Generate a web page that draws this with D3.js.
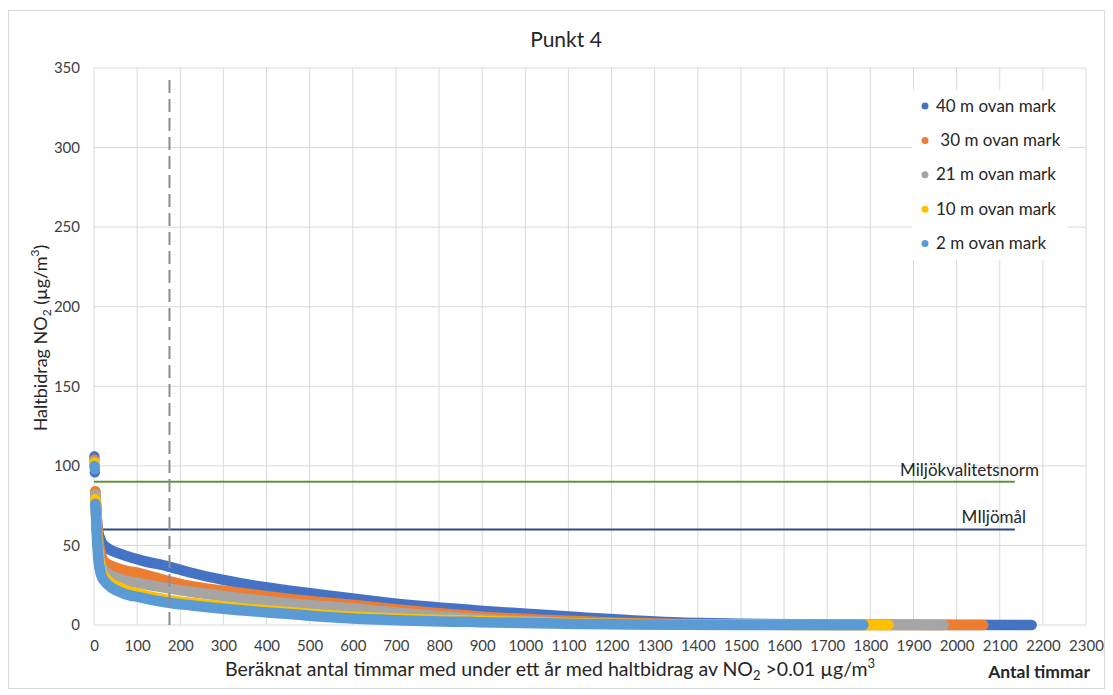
<!DOCTYPE html>
<html>
<head>
<meta charset="utf-8">
<script src="https://cdn.jsdelivr.net/npm/d3@7"></script>
<style>
  body { margin: 0; background: #fff; }
  svg { display: block; font-family: Lato, "Open Sans", sans-serif; }
</style>
</head>
<body>
<svg id="chart" width="1113" height="695"></svg>
<script>
// Hour rank (sorted duration curve) at which each series is sampled
const hours = [1, 2, 3, 4, 5, 6, 7, 8, 10, 13, 16, 22, 68, 107, 173, 223, 300, 377, 454, 532, 609, 686, 895, 1127, 1359, 1500, 1700];

// NO2 contribution (µg/m³) per height above ground, at the hours above
const s40 = [106, 96, 80, 77, 73, 69, 65, 62, 58, 55, 53, 50.3, 44, 40.8, 36.7, 33, 28.3, 24.5, 21.6, 18.9, 16.3, 13.8, 9, 4.8, 1.5, 0.8, 0.3];
const s30 = [104, 100, 84, 80, 75, 70, 65, 60, 54, 48, 45, 40, 34.6, 32.5, 27.6, 24.5, 21.6, 18.9, 16.3, 14.3, 12.4, 10.2, 5.4, 2.3, 0.6, 0.3, 0.1];
const s21 = [103, 98, 82, 78, 72, 66, 60, 55, 48, 42, 39, 34.6, 28.3, 26.2, 23, 20.9, 18.2, 15.7, 13.6, 11.9, 10.2, 8.2, 3.8, 1.3, 0.3, 0.15, 0.05];
const s10 = [102, 99, 79, 75, 68, 64, 58, 52, 45, 39, 35, 31, 22.5, 19.5, 15.8, 14, 11.7, 9.7, 8.1, 6.5, 5.2, 4.3, 2.6, 1.0, 0.3, 0.1, 0.05];
const s2  = [100, 98, 76, 72, 66, 60, 54, 50, 42, 36, 32, 28.3, 19.9, 17.4, 14, 12.4, 10.2, 8.4, 6.9, 5.2, 4, 3.2, 1.8, 0.7, 0.1, 0.05, 0.02];

// Last hour with a contribution above 0.01 µg/m³, per series
const endHours = [2174, 2062, 1970, 1842, 1784];
const endValue = 0.01;

const seriesNames = ["40 m ovan mark", " 30 m ovan mark", "21 m ovan mark", "10 m ovan mark", "2 m ovan mark"];
const seriesValues = [s40, s30, s21, s10, s2];
const seriesColors = ["#4472C4", "#ED7D31", "#A5A5A5", "#FFC000", "#5B9BD5"];

// Reference levels
const normValue = 90, normEnd = 2135, normLabel = "Miljökvalitetsnorm";
const goalValue = 60, goalEnd = 2135, goalLabel = "MIljömål";
const limitHour = 175, limitTop = 345;

const xTicks = d3.range(0, 2301, 100);
const yTicks = d3.range(0, 351, 50);

const svg = d3.select("#chart");
const m = { left: 94, right: 1086, top: 68, bottom: 625 };

const x = d3.scaleLinear().domain([0, 2300]).range([m.left, m.right]);
const y = d3.scaleLinear().domain([0, 350]).range([m.bottom, m.top]);

// chart frame
svg.append("rect").attr("x", 8.5).attr("y", 10.5).attr("width", 1096).attr("height", 678)
  .attr("fill", "#fff").attr("stroke", "#d9d9d9");

// grid
const grid = svg.append("g");
grid.selectAll("line.v").data(xTicks).join("line")
  .attr("x1", d => x(d)).attr("x2", d => x(d))
  .attr("y1", m.top).attr("y2", m.bottom)
  .attr("stroke", "#d9d9d9").attr("stroke-width", 1);
grid.selectAll("line.h").data(yTicks).join("line")
  .attr("x1", m.left).attr("x2", m.right)
  .attr("y1", d => y(d)).attr("y2", d => y(d))
  .attr("stroke", "#d9d9d9").attr("stroke-width", 1);

// axes (labels only, lines come from the grid)
const xAxis = svg.append("g").attr("transform", `translate(0,${m.bottom})`)
  .call(d3.axisBottom(x).tickValues(xTicks).tickSize(0).tickPadding(15).tickFormat(d3.format("d")));
const yAxis = svg.append("g").attr("transform", `translate(${m.left},0)`)
  .call(d3.axisLeft(y).tickValues(yTicks).tickSize(0).tickPadding(14).tickFormat(d3.format("d")));
[xAxis, yAxis].forEach(a => {
  a.select(".domain").remove();
  a.selectAll("text").attr("font-family", "Lato, sans-serif").attr("font-size", 15).attr("fill", "#404040");
});

// legend background
const legend = svg.append("g");
legend.append("rect").attr("x", 912).attr("y", 90).attr("width", 156).attr("height", 170).attr("fill", "#fff");

// reference lines
svg.append("line").attr("x1", x(0)).attr("x2", x(normEnd)).attr("y1", y(normValue)).attr("y2", y(normValue))
  .attr("stroke", "#5E9440").attr("stroke-width", 2);
svg.append("line").attr("x1", x(0)).attr("x2", x(goalEnd)).attr("y1", y(goalValue)).attr("y2", y(goalValue))
  .attr("stroke", "#2E4A86").attr("stroke-width", 2);
svg.append("text").attr("x", 1039).attr("y", y(normValue) - 6).attr("text-anchor", "end")
  .attr("font-size", 17).attr("fill", "#262626").text(normLabel);
svg.append("text").attr("x", 1026).attr("y", y(goalValue) - 7).attr("text-anchor", "end")
  .attr("font-size", 17).attr("fill", "#262626").text(goalLabel);

// series: overlapping markers drawn as a thick round-capped trace plus the early separate points
const line = d3.line().x(d => x(d[0])).y(d => y(d[1])).curve(d3.curveMonotoneX);
seriesValues.forEach((vals, i) => {
  const pts = hours.map((h, j) => [h, vals[j]]);
  pts.push([endHours[i], endValue]);
  const g = svg.append("g");
  g.append("path").datum(pts.slice(2)).attr("d", line)
    .attr("fill", "none").attr("stroke", seriesColors[i]).attr("stroke-width", 10.5)
    .attr("stroke-linecap", "round").attr("stroke-linejoin", "round");
  g.selectAll("circle").data(pts.filter(p => p[0] <= 16)).join("circle")
    .attr("cx", d => x(d[0])).attr("cy", d => y(d[1])).attr("r", 5.2)
    .attr("fill", seriesColors[i]);
});

// 175-hour limit marker
svg.append("line").attr("x1", x(limitHour)).attr("x2", x(limitHour)).attr("y1", y(0)).attr("y2", y(limitTop))
  .attr("stroke", "#8c8c8c").attr("stroke-width", 2).attr("stroke-dasharray", "13,6");

// legend entries
seriesNames.forEach((name, i) => {
  const yy = 106 + i * 34.4;
  legend.append("circle").attr("cx", 925).attr("cy", yy).attr("r", 3.5).attr("fill", seriesColors[i]);
  legend.append("text").attr("x", 936).attr("y", yy + 5.5).attr("font-size", 17)
    .attr("fill", "#262626").attr("xml:space", "preserve").style("white-space", "pre").text(name);
});

// title
svg.append("text").attr("x", 566).attr("y", 47).attr("text-anchor", "middle")
  .attr("font-size", 21).attr("fill", "#262626").text("Punkt 4");

// x axis title
const xt = svg.append("text").attr("x", 550).attr("y", 676).attr("text-anchor", "middle")
  .attr("font-size", 19.5).attr("fill", "#262626");
xt.append("tspan").text("Beräknat antal timmar med under ett år med haltbidrag av NO");
xt.append("tspan").attr("font-size", 13).attr("dy", 4).text("2");
xt.append("tspan").attr("dy", -4).text(" >0.01 µg/m");
xt.append("tspan").attr("font-size", 13).attr("dy", -8).text("3");

svg.append("text").attr("x", 1090).attr("y", 678).attr("text-anchor", "end")
  .attr("font-size", 17.5).attr("font-weight", "bold").attr("fill", "#262626").text("Antal timmar");

// y axis title
const yt = svg.append("text").attr("transform", "translate(47,338) rotate(-90)")
  .attr("text-anchor", "middle").attr("font-size", 18).attr("fill", "#262626");
yt.append("tspan").text("Haltbidrag NO");
yt.append("tspan").attr("font-size", 12).attr("dy", 4).text("2");
yt.append("tspan").attr("dy", -4).text(" (µg/m");
yt.append("tspan").attr("font-size", 12).attr("dy", -8).text("3");
yt.append("tspan").attr("dy", 8).text(")");
</script>
</body>
</html>
